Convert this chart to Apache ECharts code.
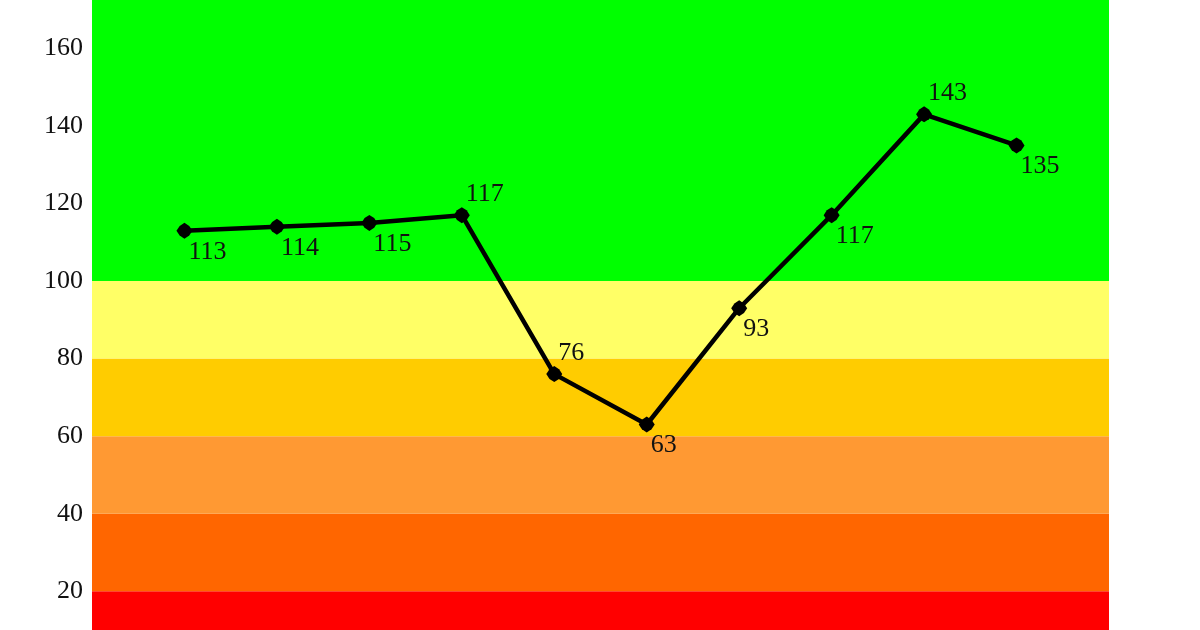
<!DOCTYPE html>
<html>
<head>
<meta charset="utf-8">
<script src="https://cdn.jsdelivr.net/npm/echarts@6/dist/echarts.min.js"></script>
<style>
  html, body { margin: 0; padding: 0; background: #fff; }
  #main { width: 1200px; height: 630px; }
</style>
</head>
<body>
<div id="main"></div>
<script>
  // data
  var positions = [1, 2, 3, 4, 5, 6, 7, 8, 9, 10];
  var values = [113, 114, 115, 117, 76, 63, 93, 117, 143, 135];
  var tickLabels = [20, 40, 60, 80, 100, 120, 140, 160];
  var bandEdges = [0, 20, 40, 60, 80, 100, 172.5];
  var bandColors = ['#ff0000', '#ff6600', '#ff9933', '#ffcc00', '#ffff66', '#00ff00'];

  // which labels sit above their point (layout only)
  var labelsAbove = [3, 4, 8];

  var myChart = echarts.init(document.getElementById('main'));

  var bands = [];
  for (var i = 0; i < bandColors.length; i++) {
    bands.push([
      { yAxis: bandEdges[i], itemStyle: { color: bandColors[i] } },
      { yAxis: bandEdges[i + 1] }
    ]);
  }

  var points = values.map(function (v, i) {
    var up = labelsAbove.indexOf(i) >= 0;
    return {
      value: [positions[i], v],
      label: up
        ? { position: [12, 0], verticalAlign: 'bottom', align: 'left' }
        : { position: [12, 16], verticalAlign: 'top', align: 'left' }
    };
  });

  // rounded diamond marker
  var marker = 'path://M0,-10 L6,-6 L10,0 L6,6 L0,10 L-6,6 L-10,0 L-6,-6 Z';

  var option = {
    animation: false,
    grid: { left: 92, right: 91, top: 0, bottom: 0 },
    xAxis: {
      type: 'value',
      min: 0,
      max: 11,
      show: false
    },
    yAxis: {
      type: 'value',
      min: 10,
      max: 172.5,
      axisLine: { show: false },
      axisTick: { show: false },
      splitLine: { show: false },
      axisLabel: {
        customValues: tickLabels,
        margin: 9,
        color: '#111',
        fontFamily: 'Liberation Serif',
        fontSize: 26
      }
    },
    series: [
      {
        type: 'line',
        data: points,
        symbol: marker,
        symbolSize: 16,
        lineStyle: { color: '#000', width: 4.5 },
        itemStyle: { color: '#000' },
        label: {
          show: true,
          color: '#111',
          fontFamily: 'Liberation Serif',
          fontSize: 26
        },
        markArea: {
          silent: true,
          data: bands
        },
        z: 5
      }
    ]
  };
  myChart.setOption(option);
  window.addEventListener('resize', function () {
    myChart.resize();
  });
</script>
</body>
</html>
